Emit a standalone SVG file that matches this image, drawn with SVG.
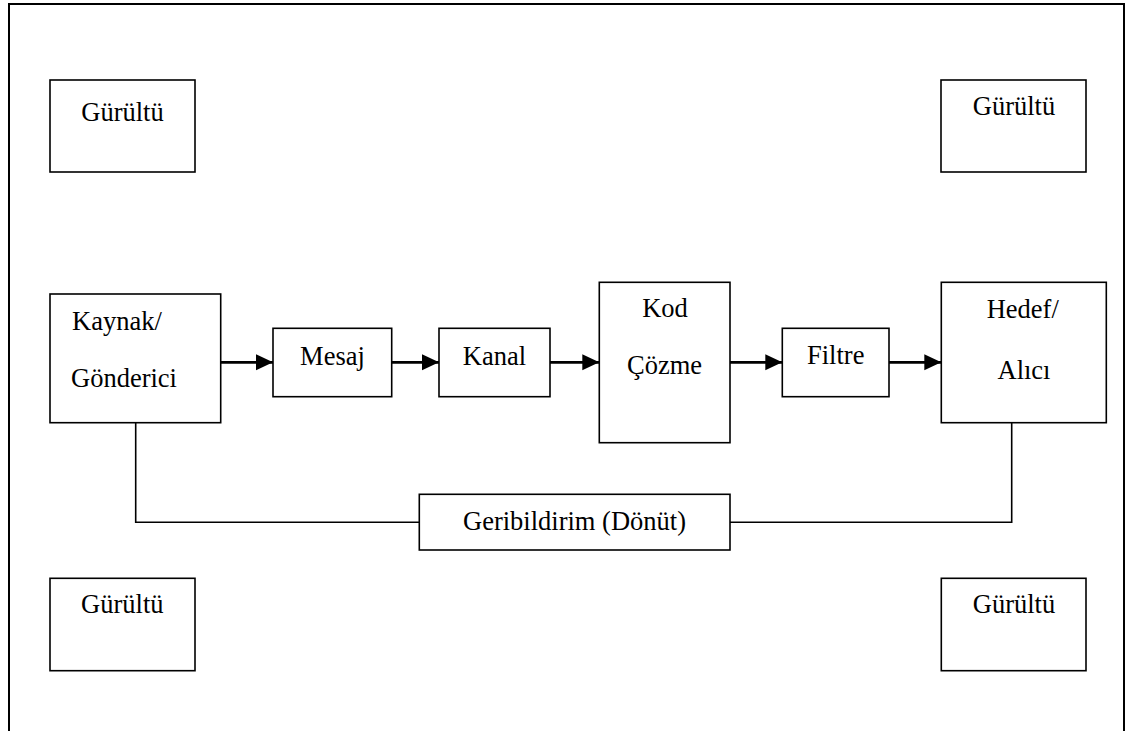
<svg xmlns="http://www.w3.org/2000/svg" width="1131" height="731" viewBox="0 0 1131 731">
<style>
.box{fill:#fff;stroke:#000;stroke-width:1.6}
.t{font-family:'Liberation Serif','DejaVu Serif',serif;font-size:26.5px;fill:#000}
.m{text-anchor:middle}
.arr{stroke:#000;stroke-width:2.7;fill:none}
.fb{stroke:#000;stroke-width:1.6;fill:none}
</style>
<defs>
<marker id="ah" markerUnits="userSpaceOnUse" markerWidth="18" markerHeight="17" refX="17" refY="8" orient="auto">
<path d="M0,0 L17,8 L0,16 Z" fill="#000"/>
</marker>
</defs>
<rect x="0" y="0" width="1131" height="731" fill="#fff"/>
<path d="M9,740 V4 H1124 V740" fill="none" stroke="#000" stroke-width="2"/>
<g id="connectors">
<line class="arr" x1="220.7" y1="362.3" x2="273" y2="362.3" marker-end="url(#ah)"/>
<line class="arr" x1="391.7" y1="362.3" x2="439" y2="362.3" marker-end="url(#ah)"/>
<line class="arr" x1="550" y1="362.3" x2="599.3" y2="362.3" marker-end="url(#ah)"/>
<line class="arr" x1="730" y1="362.3" x2="782.3" y2="362.3" marker-end="url(#ah)"/>
<line class="arr" x1="889" y1="362.3" x2="941.3" y2="362.3" marker-end="url(#ah)"/>
<path class="fb" d="M135.7,422.7 V522.3 H419.3"/>
<path class="fb" d="M730,522.3 H1011.7 V422.7"/>
</g>
<g id="noise-tl"><rect class="box" x="50" y="80" width="145" height="92"/><text class="t m" font-family="Liberation Serif" x="122.5" y="120.5">Gürültü</text></g>
<g id="noise-tr"><rect class="box" x="941" y="80" width="145" height="92"/><text class="t m" font-family="Liberation Serif" x="1014" y="115">Gürültü</text></g>
<g id="source"><rect class="box" x="50" y="294" width="170.7" height="128.7"/><text class="t" font-family="Liberation Serif" x="72" y="330">Kaynak/</text><text class="t" font-family="Liberation Serif" x="71" y="387">Gönderici</text></g>
<g id="message"><rect class="box" x="273" y="328.3" width="118.7" height="68.4"/><text class="t m" font-family="Liberation Serif" x="332.5" y="365">Mesaj</text></g>
<g id="channel"><rect class="box" x="439" y="328.3" width="111" height="68.4"/><text class="t m" font-family="Liberation Serif" x="494.5" y="365">Kanal</text></g>
<g id="decode"><rect class="box" x="599.3" y="282.3" width="130.7" height="160.4"/><text class="t m" font-family="Liberation Serif" x="665" y="317">Kod</text><text class="t m" font-family="Liberation Serif" x="664.5" y="374">Çözme</text></g>
<g id="filter"><rect class="box" x="782.3" y="328.3" width="106.7" height="68.4"/><text class="t m" font-family="Liberation Serif" x="835.7" y="364">Filtre</text></g>
<g id="receiver"><rect class="box" x="941.3" y="282.3" width="165" height="140.4"/><text class="t m" font-family="Liberation Serif" x="1022.7" y="318">Hedef/</text><text class="t m" font-family="Liberation Serif" x="1024" y="379">Alıcı</text></g>
<g id="feedback"><rect class="box" x="419.3" y="494.3" width="310.7" height="55.7"/><text class="t m" font-family="Liberation Serif" x="574.5" y="530">Geribildirim (Dönüt)</text></g>
<g id="noise-bl"><rect class="box" x="50" y="578.3" width="145" height="92.4"/><text class="t m" font-family="Liberation Serif" x="122.3" y="613.3">Gürültü</text></g>
<g id="noise-br"><rect class="box" x="941.3" y="578.3" width="144.7" height="92.4"/><text class="t m" font-family="Liberation Serif" x="1014" y="613.3">Gürültü</text></g>
</svg>
